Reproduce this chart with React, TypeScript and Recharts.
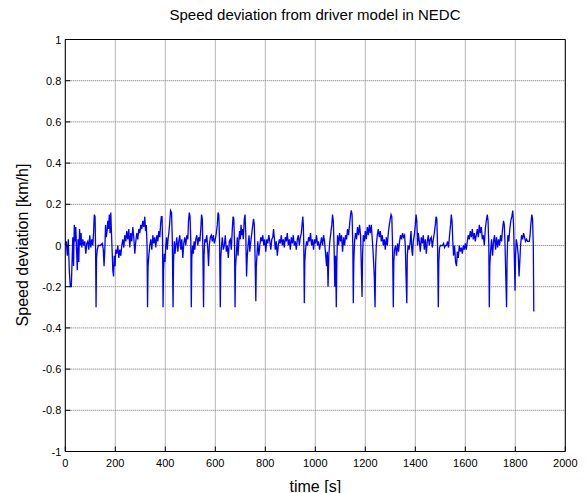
import {
  LineChart,
  Line,
  XAxis,
  YAxis,
  CartesianGrid,
} from 'recharts';

/* -------------------------------------------------------------------------- */
/*  Data                                                                      */
/* -------------------------------------------------------------------------- */

const title = 'Speed deviation from driver model in NEDC';
const xLabel = 'time [s]';
const yLabel = 'Speed deviation [km/h]';

const xTicks = [0, 200, 400, 600, 800, 1000, 1200, 1400, 1600, 1800, 2000];
const yTicks = [-1, -0.8, -0.6, -0.4, -0.2, 0, 0.2, 0.4, 0.6, 0.8, 1];

// [time s, deviation km/h]
const speedDeviation: [number, number][] = [
  [0, 0], [4, 0.02], [8, -0.05], [12, 0.03], [16, -0.12], [20, -0.2], [24, -0.2], [27, -0.08],
  [30, 0.04], [33, -0.1], [36, 0.1], [39, 0.02], [42, 0.09], [45, -0.02], [48, -0.12], [51, 0.03],
  [54, -0.08], [57, 0.08], [60, 0], [63, 0.06], [66, -0.01], [70, 0.03], [74, 0], [78, 0.02],
  [82, -0.04], [86, 0.01], [90, 0.02], [94, -0.02], [98, 0.05], [102, -0.01], [106, 0.03], [110, 0],
  [113, 0.06], [116, 0.15], [119, 0.14], [121, 0], [123, -0.3], [125, -0.06], [128, -0.02],
  [132, 0], [140, 0], [148, 0.01], [152, -0.02], [155, -0.1], [158, -0.02], [161, 0.1], [164, 0.04],
  [167, 0.07], [170, 0.12], [173, 0.08], [176, 0.15], [179, 0.06], [182, 0.16], [185, 0.05],
  [188, -0.05], [190, -0.12], [193, -0.15], [196, -0.05], [199, -0.1], [202, -0.02], [206, -0.04],
  [210, 0], [214, -0.06], [218, -0.02], [222, -0.05], [226, 0], [230, 0.03], [234, -0.01],
  [238, 0.05], [242, 0.02], [246, 0.07], [250, 0.03], [254, 0.08], [258, -0.01], [262, 0.06],
  [266, 0.02], [270, 0.09], [274, 0.04], [278, -0.04], [282, 0.02], [286, 0.06], [290, 0.03],
  [294, 0.08], [298, 0.06], [302, 0.1], [306, 0.08], [310, 0.12], [314, 0.09], [318, 0.14],
  [321, 0.07], [324, 0.1], [327, 0], [329, -0.3], [331, -0.1], [334, -0.05],
  [338, 0], [342, 0.03], [346, -0.02], [350, 0.05], [354, 0.01], [358, 0.04], [362, -0.01],
  [366, 0.05], [370, 0.02], [374, 0.07], [378, 0.04], [381, 0.1], [384, 0.14], [387, 0.14],
  [389, 0.02], [391, -0.3], [393, -0.12], [396, -0.04], [399, -0.08], [402, 0], [405, 0.04],
  [408, -0.02], [411, 0.03], [414, 0.06], [417, 0.1], [421, 0.17], [425, 0.16], [428, 0.03],
  [431, -0.3], [433, -0.08], [436, 0.02], [439, -0.04],
  [442, 0], [446, 0.04], [450, -0.03], [454, 0.02], [458, 0.05], [462, -0.02], [466, 0.03],
  [470, -0.06], [474, 0.01], [478, 0.04], [482, 0], [486, 0.05], [490, 0.03], [493, 0.12],
  [496, 0.16], [499, 0.14], [502, 0.02], [504, -0.3], [506, -0.06], [509, 0], [512, -0.04],
  [515, 0.02], [518, -0.02], [522, 0.03], [526, 0.05], [530, 0], [534, 0.04], [538, 0.02],
  [542, 0.08], [545, 0.15], [548, 0.13], [550, 0], [553, -0.3], [555, -0.05], [558, 0.03],
  [562, 0.02], [566, 0.05], [570, -0.02], [573, -0.1], [576, 0], [580, 0.04], [584, 0.05],
  [588, 0.02], [592, 0.05], [596, 0.01], [600, 0.03], [604, 0.06], [608, 0.1], [611, 0.16],
  [614, 0.15], [617, 0.02], [620, -0.3], [622, -0.06], [625, 0], [628, 0.04], [632, -0.02],
  [636, 0], [640, 0.05], [644, -0.03], [648, 0], [652, -0.06], [656, 0.02], [660, 0.03],
  [664, -0.02], [668, 0.08], [671, 0.14], [674, 0.13], [677, 0], [679, -0.3], [681, -0.1],
  [684, -0.05], [688, 0.04], [691, -0.05], [694, 0.02], [697, 0.07], [700, 0.03], [703, 0.1],
  [706, 0.05], [709, 0.08], [712, 0.03], [716, 0.13], [719, 0.15], [722, 0.05], [725, -0.15],
  [728, -0.05], [731, 0], [735, 0.05], [738, -0.03], [742, 0.02], [746, 0.06], [750, 0.1],
  [753, 0.13], [756, 0.1], [759, -0.05], [762, -0.27], [764, -0.1], [767, -0.04], [770, 0.02],
  [774, -0.05], [778, 0], [782, 0.04], [786, 0.02], [790, 0.05], [794, 0], [798, 0.03],
  [802, -0.03], [806, 0.03], [810, 0.01], [814, 0.05], [818, 0.02], [822, -0.02], [826, 0.03],
  [830, 0.04], [833, 0.08], [836, 0.04], [840, -0.02], [844, 0.02], [848, -0.05], [852, 0],
  [856, 0.03], [860, 0.01], [864, 0.05], [868, 0], [872, 0.03], [876, -0.01], [880, 0.04],
  [884, 0.02], [888, 0.06], [892, 0], [896, 0.03], [900, -0.02], [904, 0.04], [908, 0.01],
  [912, 0.05], [916, 0], [920, 0.02], [924, -0.02], [928, 0.03], [932, 0.05], [936, 0],
  [940, 0.04], [944, 0.06], [947, 0.1], [950, 0.14], [952, 0.1], [954, 0], [956, -0.28],
  [958, -0.08], [961, -0.02],
  [965, 0.02], [969, 0], [973, 0.04], [977, 0.02], [981, 0.06], [985, 0], [989, 0.03],
  [993, -0.02], [997, 0.03], [1001, 0.01], [1005, 0.05], [1009, 0], [1013, 0.02], [1017, -0.02],
  [1021, 0.01], [1025, 0.04], [1029, 0], [1033, 0.05], [1037, 0.02], [1041, -0.04], [1045, -0.1],
  [1048, -0.03], [1051, -0.2], [1054, -0.05], [1058, 0.02], [1062, 0.06], [1066, 0.1],
  [1069, 0.15], [1072, 0.12], [1075, 0], [1078, -0.2], [1081, -0.05], [1084, -0.3], [1086, -0.08],
  [1089, 0.05], [1093, 0], [1097, 0.06], [1101, 0.02], [1105, 0.05], [1109, -0.03], [1113, 0.04],
  [1117, 0], [1121, 0.05], [1125, 0.03], [1129, 0.08], [1133, 0.05], [1137, 0.1], [1141, 0.15],
  [1144, 0.17], [1147, 0.15], [1150, 0], [1152, -0.28], [1154, -0.08], [1157, 0.02], [1161, 0.06],
  [1165, 0.03], [1169, 0.09], [1173, 0.05], [1177, 0.1], [1181, 0.05], [1184, -0.1], [1187, -0.25],
  [1189, -0.05], [1192, 0.05], [1196, 0.02], [1200, 0.07], [1204, 0.03], [1208, 0.09],
  [1212, 0.05], [1216, 0.1], [1220, 0.06], [1224, 0.1], [1228, 0.03], [1232, -0.05], [1236, -0.15],
  [1239, -0.3], [1241, -0.1], [1244, 0], [1248, 0.05], [1252, 0.08], [1256, 0.04], [1260, 0.07],
  [1264, 0.02], [1268, 0.05], [1272, 0], [1276, 0.03], [1280, -0.02], [1284, 0.04], [1288, 0],
  [1292, 0.06], [1296, 0.1], [1300, 0.13], [1303, 0.15], [1306, 0.14], [1309, 0], [1312, -0.3],
  [1314, -0.08],
  [1317, -0.02], [1321, 0], [1325, -0.05], [1329, 0.01], [1333, -0.03], [1337, 0.02], [1341, 0.05],
  [1345, 0.03], [1349, 0.06], [1353, 0.04], [1357, 0.05], [1360, 0], [1363, -0.15], [1366, -0.28],
  [1368, -0.05], [1371, 0], [1375, -0.02], [1379, 0.01], [1383, 0.07], [1386, -0.02], [1389, -0.05],
  [1392, 0.02], [1396, 0.05], [1400, 0.1], [1403, 0.15], [1406, 0.12], [1409, 0], [1412, 0.06],
  [1416, 0.02], [1420, -0.03], [1424, 0.04], [1428, 0.01], [1432, 0.05], [1436, -0.02],
  [1440, 0.03], [1444, -0.04], [1448, 0.02], [1452, 0.05], [1456, 0], [1460, 0.03], [1464, 0.04],
  [1468, -0.01], [1472, 0.03], [1476, 0.06], [1480, 0.1], [1483, 0.14], [1486, 0.13], [1489, 0],
  [1492, -0.3], [1494, -0.08], [1497, -0.01], [1501, 0], [1505, 0], [1509, 0], [1513, 0.01],
  [1517, -0.01], [1521, 0], [1525, 0], [1529, 0.02], [1533, -0.01], [1537, 0.05], [1541, 0.1],
  [1544, 0.15], [1547, 0.12], [1550, 0.02], [1553, -0.05], [1557, 0], [1561, -0.08], [1565, -0.1],
  [1568, -0.03], [1572, -0.06], [1576, 0], [1580, -0.03], [1584, -0.01], [1588, -0.04], [1592, 0],
  [1596, -0.02], [1600, 0.01], [1604, -0.02], [1608, 0.02], [1612, 0.05], [1616, 0.03],
  [1620, 0.07], [1624, 0.04], [1628, 0.08], [1632, 0.03], [1636, 0.06], [1640, 0.02], [1644, 0.05],
  [1648, 0.08], [1652, 0.04], [1656, 0.1], [1660, 0.06], [1664, 0.09], [1668, 0.03], [1672, 0.05],
  [1676, 0], [1680, 0.08], [1684, 0.12], [1688, 0.15], [1691, 0.12], [1694, 0], [1696, -0.3],
  [1698, -0.1], [1701, -0.03], [1705, 0.03], [1709, -0.05], [1713, 0.02], [1717, 0.05],
  [1721, -0.02], [1725, 0.04], [1729, -0.01], [1733, 0.03], [1737, 0], [1741, 0.05], [1745, 0.02],
  [1749, 0.08], [1753, 0.12], [1756, 0.1], [1759, 0], [1762, -0.15], [1765, -0.3], [1767, -0.08],
  [1770, 0.05], [1774, 0.02], [1778, 0.08], [1782, 0.12], [1786, 0.14], [1790, 0.17], [1793, 0.1],
  [1796, -0.05], [1799, -0.22], [1801, -0.05], [1804, 0.03], [1808, 0], [1812, -0.05],
  [1815, -0.15], [1818, -0.08], [1821, 0], [1825, 0.05], [1829, 0.03], [1833, 0.06], [1837, 0.04],
  [1841, 0.02], [1845, 0.03], [1849, 0.02], [1853, 0.02], [1856, 0.02], [1859, 0.05],
  [1862, 0.1], [1866, 0.15], [1869, 0.13], [1872, 0], [1874, -0.32],
];

const data = speedDeviation.map(([t, v]) => ({ t, v }));

/* -------------------------------------------------------------------------- */
/*  Ticks (matlab style, pointing into the axes box)                          */
/* -------------------------------------------------------------------------- */

const FONT = '"Liberation Sans", Arial, Helvetica, sans-serif';

function BottomTick({ x, y, payload }: { x?: number; y?: number; payload?: { value: number } }) {
  return (
    <g>
      <line x1={x} x2={x} y1={y} y2={(y ?? 0) - 5} stroke="#000" />
      <text x={x} y={(y ?? 0) + 15} textAnchor="middle" fontSize={11} fontFamily={FONT} fill="#000">
        {payload?.value}
      </text>
    </g>
  );
}

function LeftTick({ x, y, payload }: { x?: number; y?: number; payload?: { value: number } }) {
  return (
    <g>
      <line x1={x} x2={(x ?? 0) + 5} y1={y} y2={y} stroke="#000" />
      <text x={(x ?? 0) - 4} y={(y ?? 0) + 4} textAnchor="end" fontSize={11} fontFamily={FONT} fill="#000">
        {payload?.value}
      </text>
    </g>
  );
}

/* -------------------------------------------------------------------------- */
/*  Component                                                                 */
/* -------------------------------------------------------------------------- */

export default function App() {
  return (
    <div style={{ position: 'absolute', left: 0, top: 0, width: 586, height: 493, background: '#fff', fontFamily: FONT }}>
      <div style={{ position: 'absolute', left: 65, width: 500, top: 6, textAlign: 'center', fontSize: 15, color: '#000' }}>
        {title}
      </div>
      <div
        style={{
          position: 'absolute',
          left: 23,
          top: 245,
          fontSize: 16,
          whiteSpace: 'nowrap',
          transform: 'translate(-50%, -50%) rotate(-90deg)',
          color: '#000',
        }}
      >
        {yLabel}
      </div>
      <LineChart
        width={586}
        height={493}
        data={data}
        margin={{ top: 39.5, right: 20.7, bottom: 1.5, left: 25.3 }}
      >
        <CartesianGrid stroke="#707070" strokeDasharray="1 1" />
        <XAxis
          dataKey="t"
          type="number"
          domain={[0, 2000]}
          ticks={xTicks}
          height={40}
          tickSize={0}
          tickMargin={0}
          tickLine={false}
          axisLine={{ stroke: '#000' }}
          tick={<BottomTick />}
          interval={0}
          label={{ value: xLabel, position: 'insideBottom', offset: 0, fontSize: 16, fill: '#000', fontFamily: FONT }}
        />
        <XAxis
          xAxisId="top"
          orientation="top"
          dataKey="t"
          type="number"
          domain={[0, 2000]}
          ticks={xTicks}
          height={0.01}
          mirror
          tick={false}
          tickSize={5}
          interval={0}
          tickLine={{ stroke: '#000' }}
          axisLine={{ stroke: '#000' }}
        />
        <YAxis
          type="number"
          domain={[-1, 1]}
          ticks={yTicks}
          width={40}
          tickSize={0}
          tickMargin={0}
          tickLine={false}
          axisLine={{ stroke: '#000' }}
          tick={<LeftTick />}
          interval={0}
        />
        <YAxis
          yAxisId="right"
          orientation="right"
          type="number"
          domain={[-1, 1]}
          ticks={yTicks}
          width={0.01}
          mirror
          tick={false}
          tickSize={5}
          interval={0}
          tickLine={{ stroke: '#000' }}
          axisLine={{ stroke: '#000' }}
        />
        <Line
          type="linear"
          dataKey="v"
          stroke="#0000ff"
          strokeWidth={1.3}
          dot={false}
          isAnimationActive={false}
        />
      </LineChart>
    </div>
  );
}
